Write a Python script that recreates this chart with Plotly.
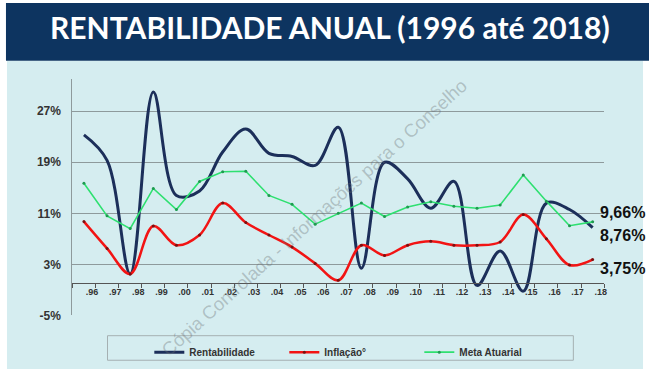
import plotly.graph_objects as go

years = [".96", ".97", ".98", ".99", ".00", ".01", ".02", ".03", ".04", ".05", ".06", ".07",
         ".08", ".09", ".10", ".11", ".12", ".13", ".14", ".15", ".16", ".17", ".18"]
rentabilidade = [23.3, 19.3, 1.5, 30.0, 13.8, 14.5, 20.6, 24.2, 20.4, 19.9, 18.5, 24.5,
                 2.4, 19.0, 16.4, 11.8, 16.0, -0.3, 5.1, -1.2, 12.6, 11.6, 8.76]
inflacao = [9.7, 5.5, 1.5, 9.0, 6.0, 7.6, 12.6, 9.55, 7.6, 5.7, 3.15, 0.5,
            6.0, 4.4, 6.0, 6.6, 6.0, 6.0, 6.5, 10.8, 7.0, 2.9, 3.75]
meta_atuarial = [15.7, 10.6, 8.6, 14.9, 11.6, 16.0, 17.5, 17.6, 13.8, 12.4, 9.3, 11.0,
                 12.6, 10.5, 12.0, 12.8, 12.1, 11.8, 12.3, 17.0, 12.9, 9.05, 9.66]
y_ticks = [-5, 3, 11, 19, 27]
title_text = "RENTABILIDADE ANUAL (1996 até 2018)"
watermark = "Cópia Controlada - Informações para o Conselho"

W, H = 652, 380
idx = list(range(len(years)))

BLUE = "#1c2f5a"
RED = "#f21414"
GREEN = "#2ee070"
BG = "#d5edf0"
NAVY = "#0d3460"

fig = go.Figure()
fig.add_trace(go.Scatter(x=idx, y=rentabilidade, name="Rentabilidade", mode="lines",
                         line=dict(color=BLUE, width=3, shape="spline", smoothing=1.0)))
fig.add_trace(go.Scatter(x=idx, y=inflacao, name="Inflação°", mode="lines+markers",
                         line=dict(color=RED, width=2.5, shape="spline", smoothing=1.0),
                         marker=dict(size=3, color="#7a1010")))
fig.add_trace(go.Scatter(x=idx, y=meta_atuarial, name="Meta Atuarial", mode="lines+markers",
                         line=dict(color=GREEN, width=1.6),
                         marker=dict(size=3, color="#1f9a50")))

def py(v):
    return 1 - v / H

fig.update_layout(
    width=W, height=H,
    margin=dict(l=0, r=0, t=0, b=0),
    paper_bgcolor="white",
    plot_bgcolor="rgba(0,0,0,0)",
    font=dict(family="Liberation Sans, Arial, sans-serif", color="#333333"),
    xaxis=dict(
        domain=[72.7 / W, 607 / W],
        range=[-0.5, len(years) - 0.5],
        anchor="free", position=py(288.8),
        tickmode="array",
        tickvals=[i + 0.5 - 0.15 for i in idx],
        ticktext=years,
        ticks="",
        showline=True, linecolor="#555555", linewidth=1,
        showgrid=False, zeroline=False,
        tickfont=dict(size=9, weight="bold", color="#333333"),
        minor=dict(tickmode="array", tickvals=[i - 0.5 for i in range(len(years) + 1)],
                   ticks="outside", ticklen=4, tickcolor="#555555", tickwidth=1, showgrid=False),
        fixedrange=True,
    ),
    yaxis=dict(
        domain=[py(321.3), py(80.8)],
        range=[-5, 32],
        tickmode="array",
        tickvals=y_ticks,
        ticktext=[f"{v}%" for v in y_ticks],
        showgrid=True, gridcolor="#8e9a9c", gridwidth=1.3,
        showline=True, linecolor="#8e9a9c", linewidth=1,
        zeroline=False,
        ticks="", ticklabelstandoff=8,
        tickfont=dict(size=12, weight="bold", color="#333333"),
        fixedrange=True,
    ),
    showlegend=True,
    legend=dict(
        orientation="h",
        x=150 / W, xanchor="left",
        y=py(344), yanchor="top",
        bgcolor="rgba(0,0,0,0)",
        borderwidth=0,
        font=dict(size=10, weight="bold", color="#333333"),
        entrywidth=90, entrywidthmode="pixels",
        itemwidth=30,
    ),
    shapes=[
        dict(type="rect", xref="paper", yref="paper", x0=7 / W, x1=646 / W, y0=py(376), y1=py(62),
             fillcolor=BG, line=dict(width=0), layer="below"),
        dict(type="rect", xref="paper", yref="paper", x0=6 / W, x1=1, y0=py(62), y1=py(3),
             fillcolor=NAVY, line=dict(width=0), layer="below"),
        dict(type="rect", xref="paper", yref="paper", x0=108 / W, x1=576 / W, y0=py(367), y1=py(342),
             fillcolor="rgba(0,0,0,0)", line=dict(width=1, color="#a5b0b2"), layer="below"),
    ],
)

fig.add_annotation(text=watermark, xref="paper", yref="paper", x=316 / W, y=py(222),
                   showarrow=False, textangle=-42,
                   font=dict(size=18.5, color="rgba(105,110,112,0.36)", family="Liberation Sans, Arial"))

fig.add_annotation(text=title_text, xref="paper", yref="paper", x=332 / W, y=py(28),
                   xanchor="center", yanchor="middle", showarrow=False,
                   font=dict(size=30, color="white", family="Lato, Calibri, sans-serif", weight="bold"))

last = len(years) - 1
labels = [(meta_atuarial[last], 9), (rentabilidade[last], -8), (inflacao[last], -9)]
for val, ys in labels:
    fig.add_annotation(x=last, y=val, xref="x", yref="y", text=f"{val:.2f}%".replace(".", ","),
                       showarrow=False, xanchor="left", yanchor="middle", xshift=5, yshift=ys,
                       font=dict(size=16, weight="bold", color="#111111"))

post = (
    "var s=document.createElement('style');"
    "s.textContent='html,body{margin:0!important;padding:0!important;width:652px;height:380px;overflow:hidden;}"
    "body>div{margin:0;padding:0;line-height:0;}';"
    "document.head.appendChild(s);"
    "window.scrollTo(0,0);"
)
fig.write_html("out.html",
               config={"displayModeBar": False, "staticPlot": True},
               post_script=post)
